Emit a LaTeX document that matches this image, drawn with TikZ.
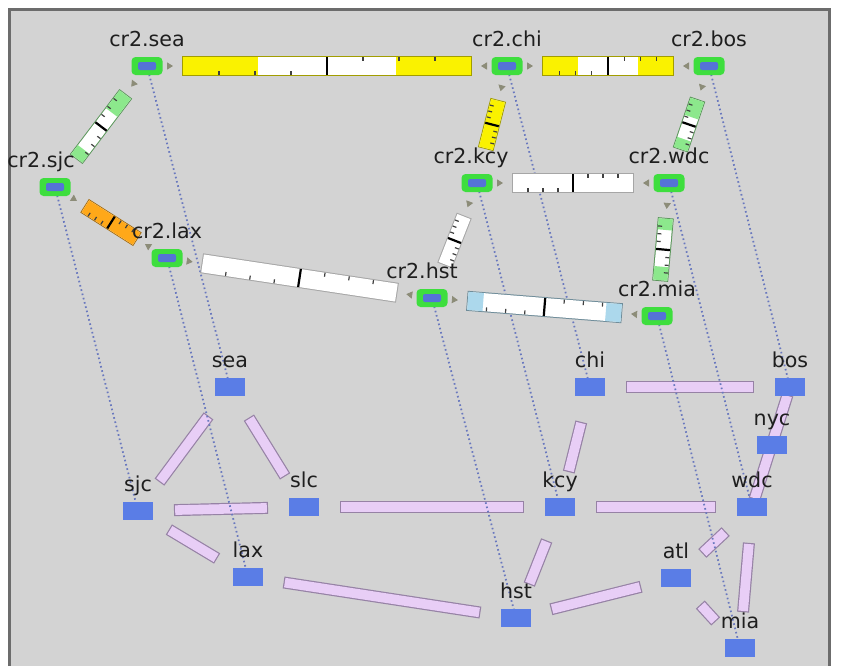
\documentclass[tikz,border=0pt]{standalone}
\usepackage{fontspec}
\setmainfont{DejaVu Sans}
\usetikzlibrary{%
	calc,%
	arrows.meta,%
	decorations.markings
}

\definecolor{panelgray}{RGB}{211,211,211}
\definecolor{framegray}{RGB}{108,108,108}
\definecolor{cityblue}{RGB}{90,125,230}
\definecolor{routergreen}{RGB}{62,222,62}
\definecolor{routerblue}{RGB}{85,115,215}
\definecolor{trunkfill}{RGB}{232,206,246}
\definecolor{trunkedge}{RGB}{150,130,165}
\definecolor{mapblue}{RGB}{105,120,190}
\definecolor{tipgray}{RGB}{140,140,120}
\definecolor{labelgray}{RGB}{30,30,30}
\definecolor{baryellow}{RGB}{250,242,0}
\definecolor{bargreen}{RGB}{140,232,140}
\definecolor{barorange}{RGB}{255,168,25}
\definecolor{barblue}{RGB}{172,216,236}

\pgfdeclarelayer{bg}
\pgfsetlayers{bg,main}

\tikzset{
	city/.style={fill=cityblue, minimum width=15pt, minimum height=9pt, inner sep=0pt},
	router/.style={fill=routergreen, rounded corners=2pt, minimum width=15.5pt, minimum height=9pt, inner sep=0pt,
		path picture={\fill[routerblue, rounded corners=1pt] ($(path picture bounding box.center)+(-4.5pt,-2pt)$) rectangle ($(path picture bounding box.center)+(4.5pt,2pt)$);}},
	tag/.style={font=\fontsize{10.3}{12}\selectfont, text=labelgray, inner sep=1pt, text height=7.5pt, text depth=2.3pt},
	every label/.style={tag},
	label distance=1.5pt,
	trunk/.style={draw=trunkedge, double=trunkfill, double distance=4.8pt, line width=0.6pt, line cap=rect, shorten <=21pt, shorten >=21pt},
	mapline/.style={draw=mapblue, line width=0.9pt, dash pattern=on 0.8pt off 1.4pt},
	tickline/.style={line width=0.6pt, black!75},
	arr first/.style={postaction={decorate, decoration={markings, mark=at position 13pt with {\arrow{Triangle[length=3pt,width=3.6pt]}}}}},
	arr last/.style={postaction={decorate, decoration={markings, mark=at position -13pt with {\arrowreversed{Triangle[length=3pt,width=3.6pt]}}}}},
	arr both/.style={arr first, arr last}
}

% link bar between two routers: colour, filled part at each end, width, arrows
\newcommand{\linkbar}[7]{%
	\coordinate (la) at ($(#1.center)!18pt!(#2.center)$);
	\coordinate (lb) at ($(#2.center)!18pt!(#1.center)$);
	\pgfmathsetlengthmacro\bh{#6/2}
	\pgfmathsetlengthmacro\bt{#6/2-2pt}
	\draw[line width=#6+1pt, #3!65!black, shorten <=-0.5pt, shorten >=-0.5pt] (la) -- (lb);
	\draw[line width=#6, white] (la) -- (lb);
	\draw[line width=#6, #3] (la) -- ($(la)!#4!(lb)$);
	\draw[line width=#6, #3] ($(lb)!#5!(la)$) -- (lb);
	\foreach \pos in {0.125,0.25,0.375}
		\draw[tickline] ($(la)!\pos!(lb)!\bh!-90:(lb)$) -- ($(la)!\pos!(lb)!\bt!-90:(lb)$);
	\foreach \pos in {0.625,0.75,0.875}
		\draw[tickline] ($(la)!\pos!(lb)!\bh!90:(lb)$) -- ($(la)!\pos!(lb)!\bt!90:(lb)$);
	\draw[line width=1.1pt] ($(la)!0.5!(lb)!\bh!90:(lb)$) -- ($(la)!0.5!(lb)!\bh!-90:(lb)$);
	\path[#7, color=tipgray] (#1.center) -- (#2.center);
}

\begin{document}
\begin{tikzpicture}[x=0.5pt,y=-0.5pt]
	\useasboundingbox (0,0) rectangle (848,666);

	% Routers
	\node[router, label=above:cr2.sea] (rsea) at (147,66) {};
	\node[router, label=above:cr2.chi] (rchi) at (507,66) {};
	\node[router, label=above:cr2.bos] (rbos) at (709,66) {};
	\node[router, label={[xshift=-7pt]above:cr2.sjc}] (rsjc) at (55,187) {};
	\node[router, label={[xshift=-3pt]above:cr2.kcy}] (rkcy) at (477,183) {};
	\node[router, label=above:cr2.wdc] (rwdc) at (669,183) {};
	\node[router, label=above:cr2.lax] (rlax) at (167,258) {};
	\node[router, label={[xshift=-5pt]above:cr2.hst}] (rhst) at (432,298) {};
	\node[router, label=above:cr2.mia] (rmia) at (657,316) {};

	% Sites
	\node[city, label=above:sea] (sea) at (230,387) {};
	\node[city, label=above:chi] (chi) at (590,387) {};
	\node[city, label=above:bos] (bos) at (790,387) {};
	\node[city, label=above:nyc] (nyc) at (772,445) {};
	\node[city, label=above:sjc] (sjc) at (138,511) {};
	\node[city, label=above:slc] (slc) at (304,507) {};
	\node[city, label=above:kcy] (kcy) at (560,507) {};
	\node[city, label=above:wdc] (wdc) at (752,507) {};
	\node[city, label=above:lax] (lax) at (248,577) {};
	\node[city, label=above:atl] (atl) at (676,578) {};
	\node[city, label=above:hst] (hst) at (516,618) {};
	\node[city, label=above:mia] (mia) at (740,648) {};

	\begin{pgfonlayer}{bg}
		% Panel
		\fill[panelgray] (9.5,9.5) rectangle (829,666);
		\draw[framegray, line width=1.5pt] (9.5,666) -- (9.5,9.5) -- (829,9.5) -- (829,666);

		% Site trunks
		\foreach \src/\dst in {sea/sjc,sea/slc,sjc/slc,sjc/lax,slc/kcy,chi/bos,chi/kcy,kcy/wdc,kcy/hst,lax/hst,hst/atl,atl/wdc,atl/mia,wdc/mia}
		\draw[trunk] (\src.center) -- (\dst.center);
		\draw[trunk, shorten <=7pt, shorten >=7pt] (bos.center) -- (wdc.center);

		% Router to site
		\foreach \site in {sea,chi,bos,sjc,kcy,wdc,lax,hst,mia}
		\draw[mapline] (r\site.center) -- (\site.center);

		% Router links
		\linkbar{rsea}{rchi}{baryellow}{0.26}{0.26}{9pt}{arr both}
		\linkbar{rchi}{rbos}{baryellow}{0.27}{0.27}{9pt}{arr both}
		\linkbar{rsea}{rsjc}{bargreen}{0.28}{0.14}{7pt}{arr first}
		\linkbar{rchi}{rkcy}{baryellow}{0.5}{0.5}{7pt}{arr first}
		\linkbar{rbos}{rwdc}{bargreen}{0.35}{0.2}{7pt}{arr first}
		\linkbar{rsjc}{rlax}{barorange}{0.5}{0.5}{7pt}{arr both}
		\linkbar{rkcy}{rwdc}{white}{0}{0}{9pt}{arr both}
		\linkbar{rkcy}{rhst}{white}{0}{0}{7pt}{arr first}
		\linkbar{rwdc}{rmia}{bargreen}{0.18}{0.22}{7pt}{arr first}
		\linkbar{rlax}{rhst}{white}{0}{0}{9pt}{arr both}
		\linkbar{rhst}{rmia}{barblue}{0.1}{0.1}{9pt}{arr both}
	\end{pgfonlayer}
\end{tikzpicture}
\end{document}
